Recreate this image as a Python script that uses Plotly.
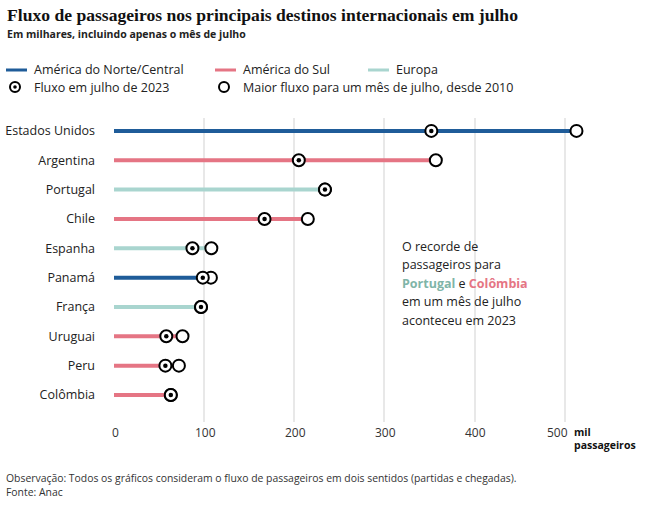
import plotly.graph_objects as go

countries = ["Estados Unidos", "Argentina", "Portugal", "Chile", "Espanha",
             "Panamá", "França", "Uruguai", "Peru", "Colômbia"]
regions = ["norte", "sul", "europa", "sul", "europa",
           "norte", "europa", "sul", "sul", "sul"]
flow_2023 = [352, 205, 234, 167, 87, 98.5, 96.5, 58, 57, 63]
max_flow = [513, 357, 234, 215, 108, 107.5, 96.5, 76, 72, 63]

region_colors = {"norte": "#1f5c99", "sul": "#e57584", "europa": "#a9d5cf"}
region_names = {"norte": "América do Norte/Central", "sul": "América do Sul", "europa": "Europa"}
x_ticks = [0, 100, 200, 300, 400, 500]
x_ticklabels = ["0", "100", "200", "300", "400", "500"]

FONT = "Open Sans"
W, H = 652, 525
L, R, T, B = 114, 62, 118, 103
PW, PH = W - L - R, H - T - B


def px(x):
    return (x - L) / PW


def py(y):
    return (H - B - y) / PH


ys = list(range(len(countries)))
fig = go.Figure()

# stems
for i, c in enumerate(countries):
    fig.add_trace(go.Scatter(
        x=[0, max_flow[i]], y=[ys[i], ys[i]], mode="lines",
        line=dict(color=region_colors[regions[i]], width=4),
        showlegend=False, hoverinfo="skip"))

# max markers (open circles)
fig.add_trace(go.Scatter(
    x=max_flow, y=ys, mode="markers",
    marker=dict(size=12, color="white", line=dict(color="black", width=2)),
    showlegend=False))
# 2023 markers
fig.add_trace(go.Scatter(
    x=flow_2023, y=ys, mode="markers",
    marker=dict(size=12, color="white", line=dict(color="black", width=2)),
    showlegend=False))
fig.add_trace(go.Scatter(
    x=flow_2023, y=ys, mode="markers",
    marker=dict(size=4.5, color="black", line=dict(width=0)),
    showlegend=False))

shapes = []
annotations = []

# legend row 1 (lines)
leg1 = [("norte", 6), ("sul", 215), ("europa", 368)]
for key, x0 in leg1:
    shapes.append(dict(type="line", xref="paper", yref="paper",
                       x0=px(x0), x1=px(x0 + 21), y0=py(70), y1=py(70),
                       line=dict(color=region_colors[key], width=3)))
    annotations.append(dict(xref="paper", yref="paper", x=px(x0 + 26), y=py(70),
                            text=region_names[key], showarrow=False,
                            xanchor="left", yanchor="middle",
                            font=dict(family=FONT, size=12.5, color="#222")))
# legend row 2 (markers)
for x0, dot, label in [(15, True, "Fluxo em julho de 2023"),
                       (224, False, "Maior fluxo para um mês de julho, desde 2010")]:
    r = 5
    shapes.append(dict(type="circle", xref="paper", yref="paper",
                       x0=px(x0 - r), x1=px(x0 + r), y0=py(87 + r), y1=py(87 - r),
                       line=dict(color="black", width=2), fillcolor="white"))
    if dot:
        d = 1.8
        shapes.append(dict(type="circle", xref="paper", yref="paper",
                           x0=px(x0 - d), x1=px(x0 + d), y0=py(87 + d), y1=py(87 - d),
                           line=dict(color="black", width=0), fillcolor="black"))
    annotations.append(dict(xref="paper", yref="paper", x=px(x0 + 17), y=py(87),
                            text=label, showarrow=False,
                            xanchor="left", yanchor="middle",
                            font=dict(family=FONT, size=12.5, color="#222")))

# title / subtitle
annotations.append(dict(xref="paper", yref="paper", x=px(5), y=py(15),
                        text="<b>Fluxo de passageiros nos principais destinos internacionais em julho</b>",
                        showarrow=False, xanchor="left", yanchor="middle",
                        font=dict(family="Liberation Serif", size=17.6, color="#111")))
annotations.append(dict(xref="paper", yref="paper", x=px(5), y=py(34),
                        text="<b>Em milhares, incluindo apenas o mês de julho</b>",
                        showarrow=False, xanchor="left", yanchor="middle",
                        font=dict(family=FONT, size=10.5, color="#222")))

# side note, one annotation per line
note_lines = ["O recorde de", "passageiros para",
              "<b><span style='color:#7fb5a8'>Portugal</span></b> e "
              "<b><span style='color:#e57584'>Colômbia</span></b>",
              "em um mês de julho", "aconteceu em 2023"]
for k, line in enumerate(note_lines):
    annotations.append(dict(xref="paper", yref="paper", x=px(400), y=py(246 + k * 18.5),
                            text=line, showarrow=False, xanchor="left", yanchor="middle",
                            align="left", font=dict(family=FONT, size=12.5, color="#222")))

# x tick labels (placed via the x axis scale)
for v, t in zip(x_ticks, x_ticklabels):
    annotations.append(dict(xref="x", yref="paper", x=v, y=py(432),
                            text=t, showarrow=False,
                            xanchor="right" if v == x_ticks[-1] else "center",
                            xshift=5 if v == x_ticks[-1] else 1,
                            yanchor="middle",
                            font=dict(family=FONT, size=12, color="#333")))

# axis unit label
annotations.append(dict(xref="paper", yref="paper", x=px(572), y=py(432),
                        text="<b>mil</b>", showarrow=False,
                        xanchor="left", yanchor="middle",
                        font=dict(family=FONT, size=10.5, color="#111")))
annotations.append(dict(xref="paper", yref="paper", x=px(572), y=py(445),
                        text="<b>passageiros</b>", showarrow=False,
                        xanchor="left", yanchor="middle",
                        font=dict(family=FONT, size=10.5, color="#111")))

# footer
annotations.append(dict(xref="paper", yref="paper", x=px(4), y=py(469),
                        text=("Observação: Todos os gráficos consideram o fluxo de passageiros em dois sentidos (partidas e chegadas).<br>"
                              "Fonte: Anac"),
                        showarrow=False, xanchor="left", yanchor="top", align="left",
                        font=dict(family=FONT, size=10.4, color="#333")))

fig.update_layout(
    width=W, height=H,
    margin=dict(l=L, r=R, t=T, b=B, pad=0, autoexpand=False),
    paper_bgcolor="white", plot_bgcolor="white",
    shapes=shapes, annotations=annotations,
    showlegend=False,
    font=dict(family=FONT, size=12.5, color="#222"),
    xaxis=dict(range=[0, 528], tickvals=x_ticks, showgrid=True, gridcolor="#e8e8e8",
               gridwidth=1.5, zeroline=False, showline=False, ticks="", automargin=False,
               showticklabels=False, fixedrange=True),
    yaxis=dict(range=[len(countries) - 1 + 0.92, -0.44], tickvals=ys, ticktext=countries,
               showgrid=False, zeroline=False, showline=False, ticks="", automargin=False,
               ticklabelstandoff=18,
               tickfont=dict(family=FONT, size=12.5, color="#222"), fixedrange=True),
)

fig.write_html("out.html")
